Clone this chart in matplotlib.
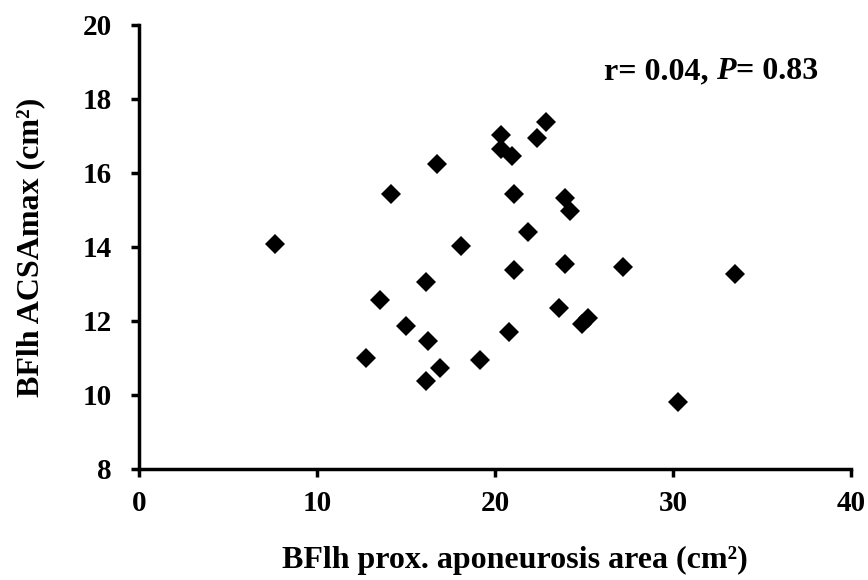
import matplotlib
matplotlib.use('Agg')
import matplotlib.pyplot as plt

# BFlh proximal aponeurosis area vs ACSAmax
apo_area = [7.6, 14.15, 16.7, 20.3, 20.35, 20.95, 22.35, 22.85, 21.05, 23.95,
            24.2, 21.85, 18.1, 21.05, 23.9, 27.2, 16.1, 13.5, 23.6, 25.2,
            24.9, 15.0, 20.8, 16.2, 12.75, 19.15, 16.9, 16.1, 30.3, 33.5]
acsa_max = [14.08, 15.42, 16.24, 17.03, 16.65, 16.46, 16.94, 17.39, 15.42, 15.33,
            14.98, 14.4, 14.03, 13.38, 13.55, 13.47, 13.05, 12.57, 12.36, 12.07,
            11.92, 11.86, 11.69, 11.46, 11.01, 10.95, 10.72, 10.38, 9.82, 13.26]

plt.rcParams['font.family'] = 'Liberation Serif'
plt.rcParams['font.weight'] = 'bold'

fig = plt.figure(figsize=(8.68, 5.8), dpi=100)
ax = fig.add_axes([0.1607, 0.1914, 0.8197, 0.7655])

ax.plot(apo_area, acsa_max, linestyle='none', marker='D', markersize=10,
        color='black', markeredgewidth=0)

ax.set_xlim(0, 40)
ax.set_ylim(8, 20)
ax.set_xticks([0, 10, 20, 30, 40])
ax.set_yticks([8, 10, 12, 14, 16, 18, 20])

for side in ['top', 'right']:
    ax.spines[side].set_visible(False)
for side in ['left', 'bottom']:
    ax.spines[side].set_linewidth(2.5)

ax.tick_params(axis='both', direction='out', length=6, width=2.5,
               labelsize=21)
ax.tick_params(axis='y', pad=14)
ax.tick_params(axis='x', pad=9)
for lab in ax.get_xticklabels() + ax.get_yticklabels():
    lab.set_fontweight('bold')

ax.set_xlabel('BFlh prox. aponeurosis area (cm²)', fontsize=23,
              fontweight='bold', labelpad=21)
ax.xaxis.label.set_x(0.527)
ax.set_ylabel('BFlh ACSAmax (cm²)', fontsize=23, fontweight='bold',
              labelpad=27)

# correlation note: plain "r" part, italic P, then value
fig.canvas.draw()
renderer = fig.canvas.get_renderer()
y_note = 0.895
fs_note = 23
t1 = ax.text(0.0, y_note, 'r= 0.04, ', transform=ax.transAxes, fontsize=fs_note,
             fontweight='bold', ha='left', va='center')
t2 = ax.text(0.0, y_note, 'P', transform=ax.transAxes, fontsize=fs_note,
             fontweight='bold', style='italic', ha='left', va='center')
t3 = ax.text(0.0, y_note, '= 0.83', transform=ax.transAxes, fontsize=fs_note,
             fontweight='bold', ha='left', va='center')
w1 = t1.get_window_extent(renderer).width
w2 = t2.get_window_extent(renderer).width
w3 = t3.get_window_extent(renderer).width
ax_box = ax.get_window_extent(renderer)
right_px = 818 - ax_box.x0
x_start = (right_px - w1 - w2 - w3) / ax_box.width
t1.set_x(x_start)
t2.set_x(x_start + w1 / ax_box.width)
t3.set_x(x_start + (w1 + w2) / ax_box.width)

fig.savefig('out.png', dpi=100)
